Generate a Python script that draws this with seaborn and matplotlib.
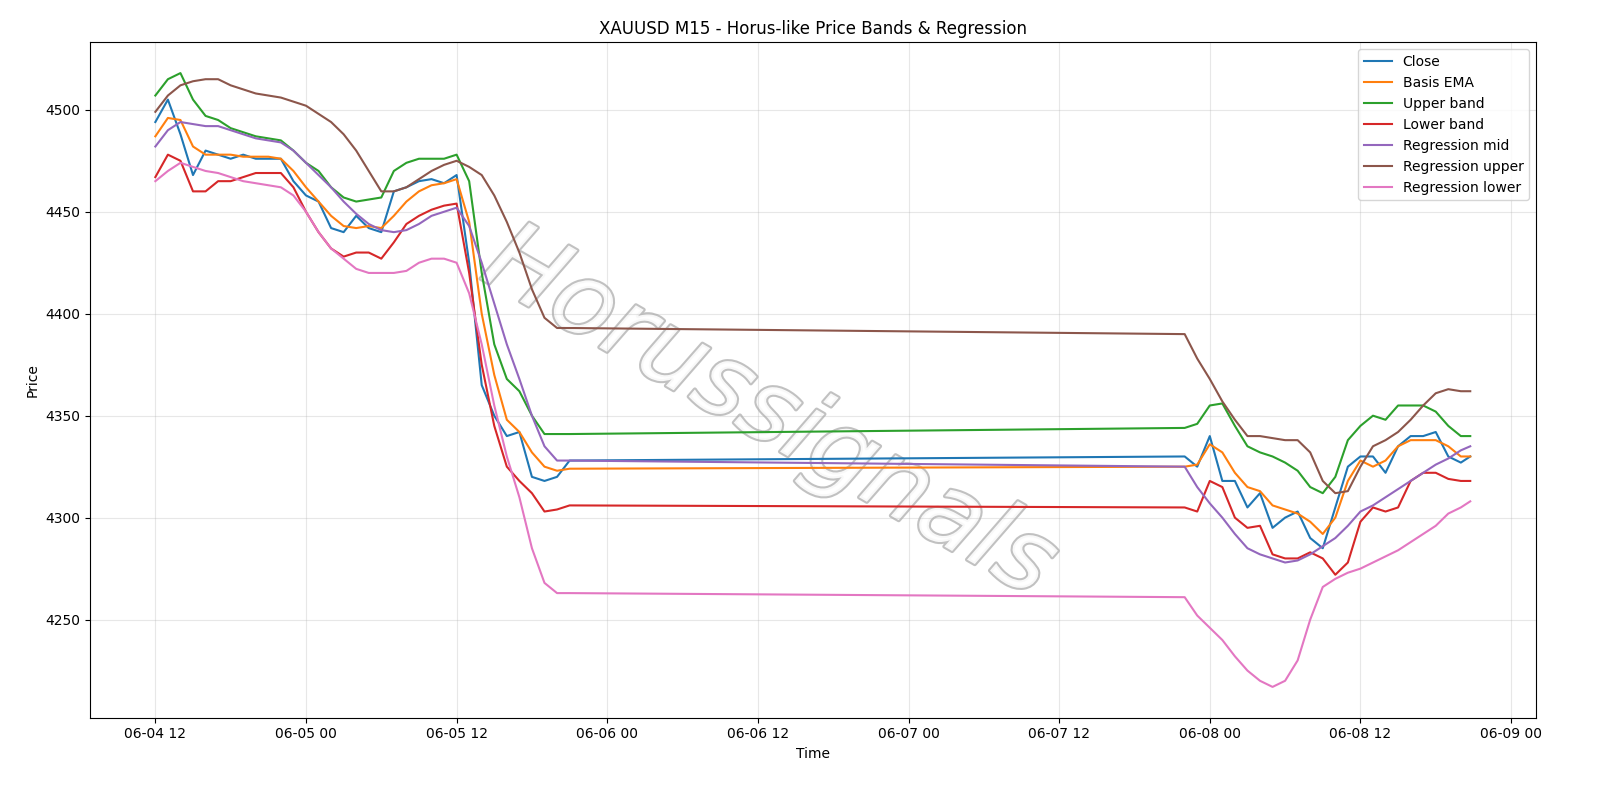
import matplotlib
matplotlib.use('Agg')
import matplotlib.pyplot as plt
import matplotlib.dates as mdates
import matplotlib.patheffects as pe
import seaborn as sns
import pandas as pd

# hourly samples, two sessions (weekend gap in between)
times = list(pd.date_range('2025-06-04 12:00', '2025-06-05 21:00', freq='h')) + \
        list(pd.date_range('2025-06-07 22:00', '2025-06-08 20:00', freq='h')) + \
        [pd.Timestamp('2025-06-08 20:45')]

close = [4494, 4505, 4488, 4468, 4480, 4478, 4476, 4478, 4476, 4476, 4476, 4465,
         4458, 4455, 4442, 4440, 4448, 4442, 4440, 4460, 4462, 4465, 4466, 4464,
         4468, 4425, 4365, 4350, 4340, 4342, 4320, 4318, 4320, 4328,
         4330, 4325, 4340, 4318, 4318, 4305, 4312, 4295, 4300, 4303, 4290, 4285,
         4305, 4325, 4330, 4330, 4322, 4335, 4340, 4340, 4342, 4330, 4327, 4330]
basis = [4487, 4496, 4495, 4482, 4478, 4478, 4478, 4477, 4477, 4477, 4476, 4470,
         4462, 4455, 4448, 4443, 4442, 4443, 4442, 4448, 4455, 4460, 4463, 4464,
         4466, 4445, 4400, 4370, 4348, 4342, 4332, 4325, 4323, 4324,
         4325, 4326, 4336, 4332, 4322, 4315, 4313, 4306, 4304, 4302, 4298, 4292,
         4300, 4318, 4328, 4325, 4328, 4335, 4338, 4338, 4338, 4335, 4330, 4330]
upper = [4507, 4515, 4518, 4505, 4497, 4495, 4491, 4489, 4487, 4486, 4485, 4480,
         4474, 4470, 4462, 4457, 4455, 4456, 4457, 4470, 4474, 4476, 4476, 4476,
         4478, 4465, 4420, 4385, 4368, 4362, 4350, 4341, 4341, 4341,
         4344, 4346, 4355, 4356, 4345, 4335, 4332, 4330, 4327, 4323, 4315, 4312,
         4320, 4338, 4345, 4350, 4348, 4355, 4355, 4355, 4352, 4345, 4340, 4340]
lower = [4467, 4478, 4475, 4460, 4460, 4465, 4465, 4467, 4469, 4469, 4469, 4462,
         4450, 4440, 4432, 4428, 4430, 4430, 4427, 4435, 4444, 4448, 4451, 4453,
         4454, 4420, 4375, 4345, 4325, 4318, 4312, 4303, 4304, 4306,
         4305, 4303, 4318, 4315, 4300, 4295, 4296, 4282, 4280, 4280, 4283, 4280,
         4272, 4278, 4298, 4305, 4303, 4305, 4318, 4322, 4322, 4319, 4318, 4318]
reg_mid = [4482, 4490, 4494, 4493, 4492, 4492, 4490, 4488, 4486, 4485, 4484, 4480,
           4474, 4468, 4462, 4455, 4449, 4444, 4441, 4440, 4441, 4444, 4448, 4450,
           4452, 4443, 4425, 4405, 4385, 4368, 4350, 4335, 4328, 4328,
           4325, 4315, 4307, 4300, 4292, 4285, 4282, 4280, 4278, 4279, 4282, 4286,
           4290, 4296, 4303, 4306, 4310, 4314, 4318, 4322, 4326, 4329, 4333, 4335]
reg_upper = [4499, 4507, 4512, 4514, 4515, 4515, 4512, 4510, 4508, 4507, 4506, 4504,
             4502, 4498, 4494, 4488, 4480, 4470, 4460, 4460, 4462, 4466, 4470, 4473,
             4475, 4472, 4468, 4458, 4445, 4430, 4412, 4398, 4393, 4393,
             4390, 4378, 4368, 4357, 4348, 4340, 4340, 4339, 4338, 4338, 4332, 4318,
             4312, 4313, 4325, 4335, 4338, 4342, 4348, 4355, 4361, 4363, 4362, 4362]
reg_lower = [4465, 4470, 4474, 4472, 4470, 4469, 4467, 4465, 4464, 4463, 4462, 4458,
             4450, 4440, 4432, 4427, 4422, 4420, 4420, 4420, 4421, 4425, 4427, 4427,
             4425, 4410, 4385, 4355, 4330, 4310, 4285, 4268, 4263, 4263,
             4261, 4252, 4246, 4240, 4232, 4225, 4220, 4217, 4220, 4230, 4250, 4266,
             4270, 4273, 4275, 4278, 4281, 4284, 4288, 4292, 4296, 4302, 4305, 4308]

series = {
    'Close': close,
    'Basis EMA': basis,
    'Upper band': upper,
    'Lower band': lower,
    'Regression mid': reg_mid,
    'Regression upper': reg_upper,
    'Regression lower': reg_lower,
}

fig, ax = plt.subplots(figsize=(16, 8), dpi=100)
colors = sns.color_palette('tab10')
for i, (name, vals) in enumerate(series.items()):
    sns.lineplot(x=times, y=vals, ax=ax, label=name, color=colors[i], linewidth=1.5, sort=False)

# watermark
ax.text(0.47, 0.45, 'Horussignals', transform=ax.transAxes, fontsize=72,
        color='white', alpha=0.9, rotation=-30, ha='center', va='center',
        fontstyle='italic', zorder=0,
        path_effects=[pe.withStroke(linewidth=3, foreground='#bbbbbb')])

ax.xaxis.set_major_locator(mdates.HourLocator(byhour=[0, 12]))
ax.xaxis.set_major_formatter(mdates.DateFormatter('%m-%d %H'))
ax.set_title('XAUUSD M15 - Horus-like Price Bands & Regression')
ax.set_xlabel('Time')
ax.set_ylabel('Price')
ax.grid(True, alpha=0.3)
ax.legend(loc='upper right')
plt.subplots_adjust(left=0.056, right=0.96, top=0.947, bottom=0.103)
fig.savefig('out.png')
